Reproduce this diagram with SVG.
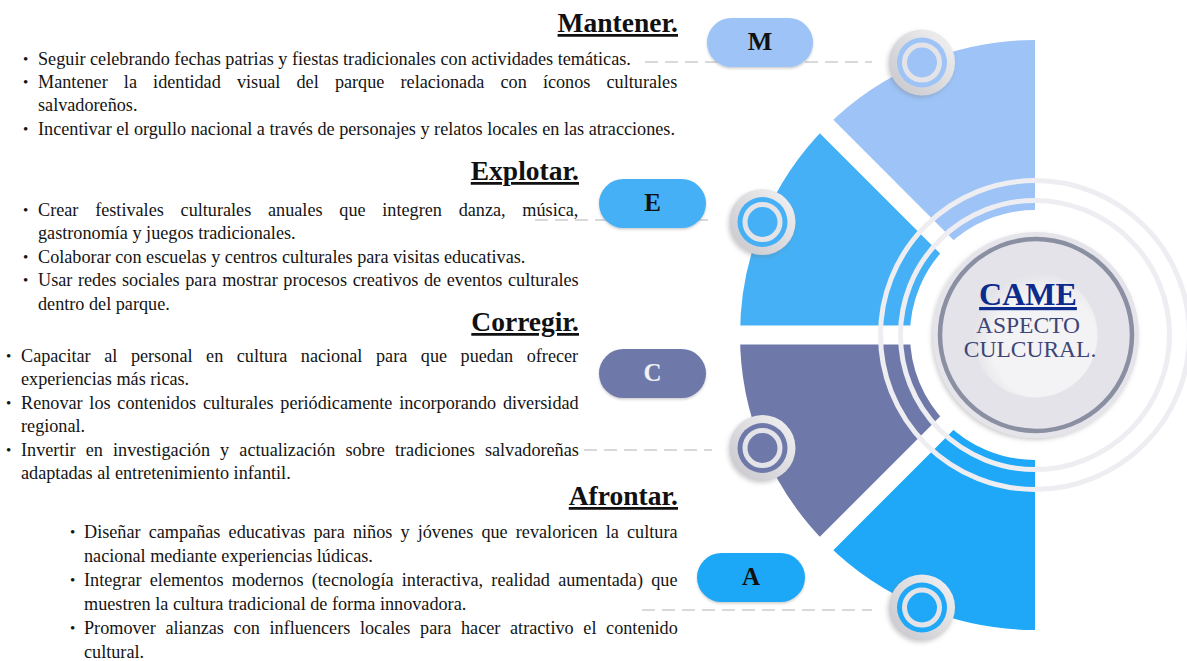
<svg xmlns="http://www.w3.org/2000/svg" width="1187" height="661" viewBox="0 0 1187 661">
<defs>
<style>
.t{font-family:"Liberation Serif","Times New Roman",serif;font-size:18.2px;fill:#141414}
.b{font-family:"Liberation Serif","Times New Roman",serif;font-size:15px;fill:#141414}
.h{font-family:"Liberation Serif","Times New Roman",serif;font-size:27.5px;font-weight:bold;fill:#111;text-decoration:underline;text-anchor:end}
.pl{font-family:"Liberation Serif","Times New Roman",serif;font-size:25px;font-weight:bold;text-anchor:middle;fill:#111}
.dash{stroke:#cdcdd0;stroke-width:1.5;stroke-dasharray:13 7;fill:none}
.cM{fill:#9dc3f7}.cE{fill:#45b0f5}.cC{fill:#6e79aa}.cA{fill:#1ea8f7}
.gap{stroke:#fff;stroke-width:19;fill:none}
.ring{stroke:#eeeef2;stroke-width:5;fill:none}
.dot-ring{stroke:#e4e4e8;stroke-width:5}
</style>
<linearGradient id="gr" x1="1" y1="0" x2="0" y2="1">
<stop offset="0" stop-color="#f3f3f5"/><stop offset="1" stop-color="#c6c6cb"/>
</linearGradient>
<radialGradient id="inner" cx="0.58" cy="0.58" r="0.6">
<stop offset="0.7" stop-color="#f3f3f5"/><stop offset="1" stop-color="#e2e2e7"/>
</radialGradient>
<filter id="sh" x="-30%" y="-30%" width="160%" height="160%">
<feDropShadow dx="-1.5" dy="2" stdDeviation="2" flood-color="#777" flood-opacity="0.35"/>
</filter>
<filter id="psh" x="-10%" y="-20%" width="120%" height="150%">
<feDropShadow dx="0" dy="1.5" stdDeviation="1" flood-color="#555" flood-opacity="0.3"/>
</filter>
</defs>
<rect width="1187" height="661" fill="#fff"/>

<g id="connectors">
<line class="dash" x1="645" y1="62" x2="872" y2="62"/>
<line class="dash" x1="535" y1="220" x2="712" y2="220"/>
<line class="dash" x1="584" y1="450" x2="712" y2="450"/>
<line class="dash" x1="642" y1="610" x2="872" y2="610"/>
</g>

<g id="sectors">
<path class="cM" d="M1035,40 A295,295 0 0 0 826.4,126.4 L946.6,246.6 A125,125 0 0 1 1035,210 Z"/>
<path class="cE" d="M826.4,126.4 A295,295 0 0 0 740,335 L910,335 A125,125 0 0 1 946.6,246.6 Z"/>
<path class="cC" d="M740,335 A295,295 0 0 0 826.4,543.6 L946.6,423.4 A125,125 0 0 1 910,335 Z"/>
<path class="cA" d="M826.4,543.6 A295,295 0 0 0 1035,630 L1035,460 A125,125 0 0 1 946.6,423.4 Z"/>
<line class="gap" x1="1035" y1="335" x2="815.8" y2="115.8"/>
<line class="gap" x1="1035" y1="335" x2="725" y2="335"/>
<line class="gap" x1="1035" y1="335" x2="815.8" y2="554.2"/>
<circle class="ring" cx="1035" cy="335" r="134.5"/>
<circle class="ring" cx="1035" cy="335" r="154.5"/>
</g>

<g id="node-center">
<circle cx="1036" cy="335" r="103" fill="#e4e4ea" filter="url(#sh)"/>
<circle cx="1036" cy="335" r="96" fill="#e3e3e9" stroke="#8a8fa2" stroke-width="4.5"/>
<circle cx="1035" cy="335" r="62.5" fill="url(#inner)"/>
<text x="1028" y="305" text-anchor="middle" font-family="'Liberation Serif','Times New Roman',serif" font-size="32" font-weight="bold" fill="#0c2b8c" text-decoration="underline">CAME</text>
<text x="1028" y="333" text-anchor="middle" font-family="'Liberation Serif','Times New Roman',serif" font-size="23.5" fill="#3d4577">ASPECTO</text>
<text x="1030" y="357" text-anchor="middle" font-family="'Liberation Serif','Times New Roman',serif" font-size="23.5" fill="#3d4577">CULCURAL.</text>
</g>

<g id="node-M">
<circle cx="922" cy="62.5" r="33" fill="url(#gr)" filter="url(#sh)"/>
<circle class="cM" cx="922" cy="62.5" r="25"/>
<circle class="cM dot-ring" cx="922" cy="62.5" r="17.5"/>
<rect class="cM" x="707" y="18" width="106" height="49" rx="24.5" filter="url(#psh)"/>
<text class="pl" x="760" y="50" style="font-size:26px">M</text>
</g>
<g id="node-E">
<circle cx="762.5" cy="222" r="33" fill="url(#gr)" filter="url(#sh)"/>
<circle class="cE" cx="762.5" cy="222" r="25"/>
<circle class="cE dot-ring" cx="762.5" cy="222" r="17.5"/>
<rect class="cE" x="599" y="179" width="107" height="49" rx="24.5" filter="url(#psh)"/>
<text class="pl" x="652.5" y="210.5">E</text>
</g>
<g id="node-C">
<circle cx="762.5" cy="448" r="33" fill="url(#gr)" filter="url(#sh)"/>
<circle class="cC" cx="762.5" cy="448" r="25"/>
<circle class="cC dot-ring" cx="762.5" cy="448" r="17.5"/>
<rect class="cC" x="599" y="349" width="107" height="49" rx="24.5" filter="url(#psh)"/>
<text class="pl" x="652.5" y="380.5" style="fill:#f2f2f4">C</text>
</g>
<g id="node-A">
<circle cx="922" cy="607.5" r="33" fill="url(#gr)" filter="url(#sh)"/>
<circle class="cA" cx="922" cy="607.5" r="25"/>
<circle class="cA dot-ring" cx="922" cy="607.5" r="17.5"/>
<rect class="cA" x="697" y="553" width="108" height="49" rx="24.5" filter="url(#psh)"/>
<text class="pl" x="751" y="584.5">A</text>
</g>

<g id="text-M">
<text class="h" x="678" y="32">Mantener.</text>
<text class="b" x="23" y="64">•</text>
<text class="t" x="38" y="65">Seguir celebrando fechas patrias y fiestas tradicionales con actividades temáticas.</text>
<text class="b" x="23" y="87">•</text>
<text class="t" x="38" y="88" style="word-spacing:11.6px">Mantener la identidad visual del parque relacionada con íconos culturales</text>
<text class="t" x="38" y="111">salvadoreños.</text>
<text class="b" x="23" y="134">•</text>
<text class="t" x="38" y="135">Incentivar el orgullo nacional a través de personajes y relatos locales en las atracciones.</text>
</g>

<g id="text-E">
<text class="h" x="579" y="180">Explotar.</text>
<text class="b" x="23" y="215">•</text>
<text class="t" x="38" y="216" style="word-spacing:12.2px">Crear festivales culturales anuales que integren danza, música,</text>
<text class="t" x="38" y="239">gastronomía y juegos tradicionales.</text>
<text class="b" x="23" y="262">•</text>
<text class="t" x="38" y="263">Colaborar con escuelas y centros culturales para visitas educativas.</text>
<text class="b" x="23" y="285">•</text>
<text class="t" x="38" y="286" style="word-spacing:1.1px">Usar redes sociales para mostrar procesos creativos de eventos culturales</text>
<text class="t" x="38" y="310">dentro del parque.</text>
</g>

<g id="text-C">
<text class="h" x="579" y="331">Corregir.</text>
<text class="b" x="6" y="361">•</text>
<text class="t" x="21" y="362" style="word-spacing:9px">Capacitar al personal en cultura nacional para que puedan ofrecer</text>
<text class="t" x="21" y="385">experiencias más ricas.</text>
<text class="b" x="6" y="408">•</text>
<text class="t" x="21" y="409" style="word-spacing:2.2px">Renovar los contenidos culturales periódicamente incorporando diversidad</text>
<text class="t" x="21" y="432">regional.</text>
<text class="b" x="6" y="455">•</text>
<text class="t" x="21" y="456" style="word-spacing:5.6px">Invertir en investigación y actualización sobre tradiciones salvadoreñas</text>
<text class="t" x="21" y="479">adaptadas al entretenimiento infantil.</text>
</g>

<g id="text-A">
<text class="h" x="678" y="505">Afrontar.</text>
<text class="b" x="70" y="537">•</text>
<text class="t" x="84" y="538" style="word-spacing:3.6px">Diseñar campañas educativas para niños y jóvenes que revaloricen la cultura</text>
<text class="t" x="84" y="562">nacional mediante experiencias lúdicas.</text>
<text class="b" x="70" y="585">•</text>
<text class="t" x="84" y="586" style="word-spacing:3.7px">Integrar elementos modernos (tecnología interactiva, realidad aumentada) que</text>
<text class="t" x="84" y="610">muestren la cultura tradicional de forma innovadora.</text>
<text class="b" x="70" y="633">•</text>
<text class="t" x="84" y="634" style="word-spacing:5.1px">Promover alianzas con influencers locales para hacer atractivo el contenido</text>
<text class="t" x="84" y="658">cultural.</text>
</g>
</svg>
